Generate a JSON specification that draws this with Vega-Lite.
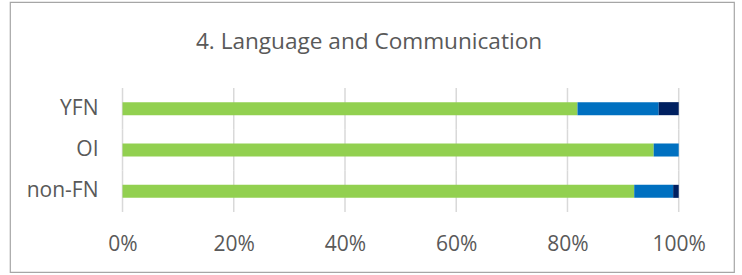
{
  "$schema": "https://vega.github.io/schema/vega-lite/v6.json",
  "width": 724,
  "height": 270,
  "autosize": {"type": "none"},
  "padding": {"left": 10, "top": 2, "right": 8, "bottom": 3},
  "background": "white",
  "config": {"view": {"stroke": "#a6a6a6", "strokeWidth": 1.2}, "font": "Open Sans"},
  "title": {"text": "4. Language and Communication", "fontSize": 22.6, "font": "Open Sans", "fontWeight": "normal", "color": "#595959", "anchor": "middle", "frame": "group", "offset": -70, "baseline": "alphabetic", "dx": -3},
  "datasets": {
    "bars": [
      {"group": "YFN", "series": "Series 1", "value": 81.8},
      {"group": "YFN", "series": "Series 2", "value": 14.6},
      {"group": "YFN", "series": "Series 3", "value": 3.6},
      {"group": "OI", "series": "Series 1", "value": 95.5},
      {"group": "OI", "series": "Series 2", "value": 4.5},
      {"group": "non-FN", "series": "Series 1", "value": 92.0},
      {"group": "non-FN", "series": "Series 2", "value": 7.0},
      {"group": "non-FN", "series": "Series 3", "value": 1.0}
    ],
    "grid": [
      {"group": "YFN", "pct": 0}, {"group": "YFN", "pct": 20}, {"group": "YFN", "pct": 40}, {"group": "YFN", "pct": 60}, {"group": "YFN", "pct": 80}, {"group": "YFN", "pct": 100},
      {"group": "OI", "pct": 0}, {"group": "OI", "pct": 20}, {"group": "OI", "pct": 40}, {"group": "OI", "pct": 60}, {"group": "OI", "pct": 80}, {"group": "OI", "pct": 100},
      {"group": "non-FN", "pct": 0}, {"group": "non-FN", "pct": 20}, {"group": "non-FN", "pct": 40}, {"group": "non-FN", "pct": 60}, {"group": "non-FN", "pct": 80}, {"group": "non-FN", "pct": 100}
    ]
  },
  "layer": [
    {
      "data": {"name": "grid"},
      "mark": {"type": "tick", "color": "#d9d9d9", "thickness": 1.5, "size": 41.33, "opacity": 1},
      "encoding": {
        "x": {
          "field": "pct", "type": "quantitative",
          "scale": {"domain": [-20.23, 109.94], "nice": false, "zero": false},
          "axis": {"values": [0, 20, 40, 60, 80, 100], "labelExpr": "datum.value + '%'", "orient": "bottom", "offset": -60, "domain": false, "ticks": false, "tickSize": 0, "grid": false, "labelPadding": 21, "labelFontSize": 21, "labelFont": "Open Sans", "labelColor": "#595959", "labelFlush": false, "labelBound": false, "title": null}
        },
        "y": {
          "field": "group", "type": "nominal", "sort": ["YFN", "OI", "non-FN"],
          "scale": {"type": "band", "range": [86, 210], "paddingInner": 0.6845, "paddingOuter": 0.34225},
          "axis": {"orient": "left", "offset": -88, "domain": false, "ticks": false, "tickSize": 0, "labelPadding": 0, "labelFontSize": 21, "labelFont": "Open Sans", "labelColor": "#595959", "title": null}
        }
      }
    },
    {
      "data": {"name": "bars"},
      "mark": {"type": "bar"},
      "encoding": {
        "x": {"field": "value", "type": "quantitative", "stack": "zero"},
        "y": {"field": "group", "type": "nominal", "sort": ["YFN", "OI", "non-FN"]},
        "color": {"field": "series", "type": "nominal", "scale": {"domain": ["Series 1", "Series 2", "Series 3"], "range": ["#92D050", "#0070C0", "#002060"]}, "legend": null},
        "order": {"field": "series", "sort": "ascending"}
      }
    }
  ]
}
